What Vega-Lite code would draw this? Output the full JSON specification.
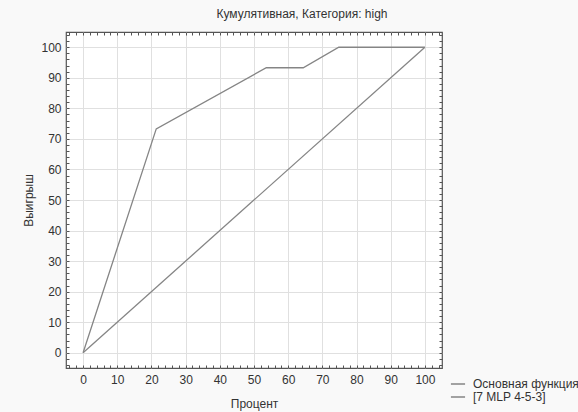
{
  "$schema": "https://vega.github.io/schema/vega-lite/v6.json",
  "autosize": "none",
  "width": 376,
  "height": 336,
  "padding": {"left": 66, "top": 32, "right": 136, "bottom": 44},
  "background": "#f9f9f9",
  "title": {
    "text": "Кумулятивная, Категория: high",
    "font": "Liberation Sans",
    "fontSize": 12,
    "fontWeight": "normal",
    "color": "#333333",
    "anchor": "middle",
    "dx": 48,
    "offset": 11
  },
  "config": {
    "view": {"fill": "#ffffff", "stroke": "#555555", "strokeWidth": 1.2},
    "font": "Liberation Sans"
  },
  "data": {
    "values": [
      {"series": "Основная функция", "x": 0, "y": 0},
      {"series": "Основная функция", "x": 100, "y": 100},
      {"series": "[7 MLP 4-5-3]", "x": 0, "y": 0},
      {"series": "[7 MLP 4-5-3]", "x": 21.4, "y": 73.3},
      {"series": "[7 MLP 4-5-3]", "x": 53.6, "y": 93.3},
      {"series": "[7 MLP 4-5-3]", "x": 64.4, "y": 93.3},
      {"series": "[7 MLP 4-5-3]", "x": 74.8, "y": 100},
      {"series": "[7 MLP 4-5-3]", "x": 100, "y": 100}
    ]
  },
  "layer": [
    {
      "mark": {"type": "line", "strokeWidth": 1.3, "clip": true},
      "encoding": {
        "x": {
          "field": "x", "type": "quantitative",
          "scale": {"domain": [-5, 105], "nice": false, "zero": false},
          "axis": {
            "orient": "bottom",
            "title": "Процент",
            "titleFont": "Liberation Sans", "titleFontSize": 12, "titleFontWeight": "normal", "titleColor": "#333333",
            "titlePadding": 13,
            "values": [-4,-2,0,2,4,6,8,10,12,14,16,18,20,22,24,26,28,30,32,34,36,38,40,42,44,46,48,50,52,54,56,58,60,62,64,66,68,70,72,74,76,78,80,82,84,86,88,90,92,94,96,98,100,102,104],
            "labelExpr": "datum.value % 10 === 0 ? datum.label : ''",
            "labelFont": "Liberation Sans", "labelFontSize": 12, "labelColor": "#333333",
            "labelPadding": 9,
            "tickSize": -3, "tickColor": "#555555", "tickWidth": 1,
            "domain": false,
            "grid": true,
            "gridColor": {"condition": {"test": "datum.value % 10 === 0", "value": "#e0e0e0"}, "value": "transparent"},
            "gridWidth": 1
          }
        },
        "y": {
          "field": "y", "type": "quantitative",
          "scale": {"domain": [-5, 105], "nice": false, "zero": false},
          "axis": {
            "orient": "left",
            "title": "Выигрыш",
            "titleFont": "Liberation Sans", "titleFontSize": 12, "titleFontWeight": "normal", "titleColor": "#333333",
            "titlePadding": 5,
            "values": [-4,-2,0,2,4,6,8,10,12,14,16,18,20,22,24,26,28,30,32,34,36,38,40,42,44,46,48,50,52,54,56,58,60,62,64,66,68,70,72,74,76,78,80,82,84,86,88,90,92,94,96,98,100,102,104],
            "labelExpr": "datum.value % 10 === 0 ? datum.label : ''",
            "labelFont": "Liberation Sans", "labelFontSize": 12, "labelColor": "#333333",
            "labelPadding": 8,
            "tickSize": -3, "tickColor": "#555555", "tickWidth": 1,
            "domain": false,
            "grid": true,
            "gridColor": {"condition": {"test": "datum.value % 10 === 0", "value": "#e0e0e0"}, "value": "transparent"},
            "gridWidth": 1
          }
        },
        "color": {
          "field": "series", "type": "nominal",
          "scale": {"domain": ["Основная функция", "[7 MLP 4-5-3]"], "range": ["#858585", "#858585"]},
          "legend": {
            "title": null,
            "orient": "none",
            "legendX": 384,
            "legendY": 346,
            "symbolType": "stroke",
            "symbolSize": 200,
            "symbolStrokeWidth": 1.3,
            "labelFont": "Liberation Sans", "labelFontSize": 12, "labelColor": "#333333",
            "labelOffset": 7,
            "clipHeight": 12,
            "rowPadding": 1,
            "labelLimit": 300
          }
        }
      }
    },
    {
      "mark": {"type": "point", "opacity": 0},
      "encoding": {
        "x": {
          "field": "x", "type": "quantitative",
          "scale": {"domain": [-5, 105], "nice": false, "zero": false},
          "axis": {
            "orient": "top", "title": null, "labels": false, "grid": false, "domain": false,
            "values": [-4,-2,0,2,4,6,8,10,12,14,16,18,20,22,24,26,28,30,32,34,36,38,40,42,44,46,48,50,52,54,56,58,60,62,64,66,68,70,72,74,76,78,80,82,84,86,88,90,92,94,96,98,100,102,104],
            "tickSize": -3, "tickColor": "#555555", "tickWidth": 1
          }
        },
        "y": {
          "field": "y", "type": "quantitative",
          "scale": {"domain": [-5, 105], "nice": false, "zero": false},
          "axis": {
            "orient": "right", "title": null, "labels": false, "grid": false, "domain": false,
            "values": [-4,-2,0,2,4,6,8,10,12,14,16,18,20,22,24,26,28,30,32,34,36,38,40,42,44,46,48,50,52,54,56,58,60,62,64,66,68,70,72,74,76,78,80,82,84,86,88,90,92,94,96,98,100,102,104],
            "tickSize": -3, "tickColor": "#555555", "tickWidth": 1
          }
        }
      }
    }
  ],
  "resolve": {"axis": {"x": "independent", "y": "independent"}}
}
